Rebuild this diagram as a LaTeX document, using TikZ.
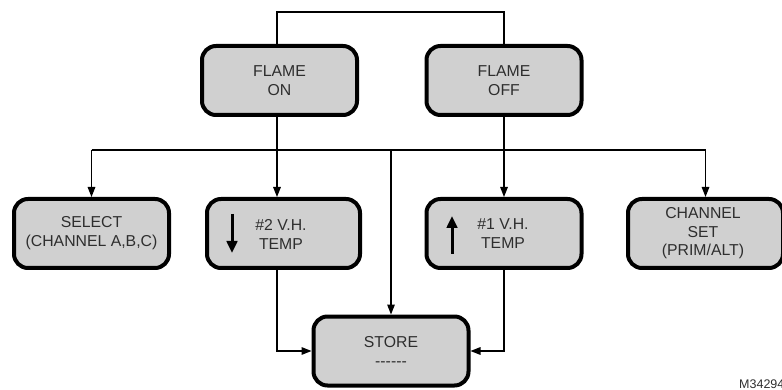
\documentclass[tikz,border=0pt]{standalone}
\usepackage{fontspec}
\setmainfont{Liberation Sans}
\usetikzlibrary{arrows.meta,calc}
\definecolor{boxfill}{HTML}{D0D0D0}
\definecolor{txt}{HTML}{2E2E2E}
\tikzset{
  stbox/.style={draw=black, line width=4pt, fill=boxfill, rounded corners=14pt,
    minimum width=155pt, minimum height=69pt, inner sep=0pt,
    align=center, text=txt, font=\fontsize{15.8}{19}\selectfont},
  conn/.style={line width=1.4pt, black},
  arr/.style={conn, -{Triangle[length=10pt,width=7.5pt]}},
  bigarr/.style={line width=3pt, black, -{Triangle[length=12pt,width=10.5pt]}},
}
\begin{document}
\begin{tikzpicture}[x=1pt,y=-1pt]
\useasboundingbox (0,0) rectangle (782,390);
\node[stbox] (fon) at (279.5,80.5) {FLAME\\ON};
\node[stbox] (foff) at (504,80.5) {FLAME\\OFF};
\node[stbox] (sel) at (91.5,233.5) {SELECT\\(CHANNEL A,B,C)};
\node[stbox, minimum width=153pt] (n2) at (283.5,233.5) {};
\node[stbox] (n1) at (504,233.5) {};
\node[stbox] (chan) at (705.5,233.5) {};
\node[stbox] (store) at (391,351) {STORE\\-{}-{}-{}-{}-{}-};
% texts inside boxes with symbols
\node[align=center, text=txt, font=\fontsize{15.8}{19}\selectfont] (n2t) at (281,234) {\#2 V.H.\\TEMP};
\node[align=center, text=txt, font=\fontsize{15.8}{19}\selectfont] (n1t) at (503,234) {\#1 V.H.\\TEMP};
\node[align=center, text=txt, font=\fontsize{15.8}{18.5}\selectfont] (chant) at (703,233.5) {CHANNEL\\SET\\(PRIM/ALT)};
\draw[bigarr] (232,214) -- (232,253);
\draw[bigarr] (452,254) -- (452,216);
% connectors
\coordinate (top) at (0,12);
\coordinate (bus) at (0,150);
\draw[conn] ([xshift=-2.5pt]fon.north) -- ([xshift=-2.5pt]top -| fon.north) -- (top -| foff.north) -- (foff.north);
\draw[arr] ([xshift=-2.5pt]fon.south) -- ([xshift=-2.5pt]fon.south |- n2.north);
\draw[arr] (foff.south) -- (n1.north);
\draw[conn] (bus -| sel.north) -- (bus -| chan.north);
\draw[arr] (bus -| sel.north) -- (sel.north);
\draw[arr] (bus -| chan.north) -- (chan.north);
\draw[arr] (bus -| store.north) -- (store.north);
\draw[arr] ([xshift=-2.5pt]fon.south |- n2.south) |- (store.west);
\draw[arr] (n1.south) |- (store.east);
\node[anchor=base west, inner sep=0pt, text=txt, font=\fontsize{12.5}{14}\selectfont] (mlab) at (739,388) {M34294};
\end{tikzpicture}
\end{document}
